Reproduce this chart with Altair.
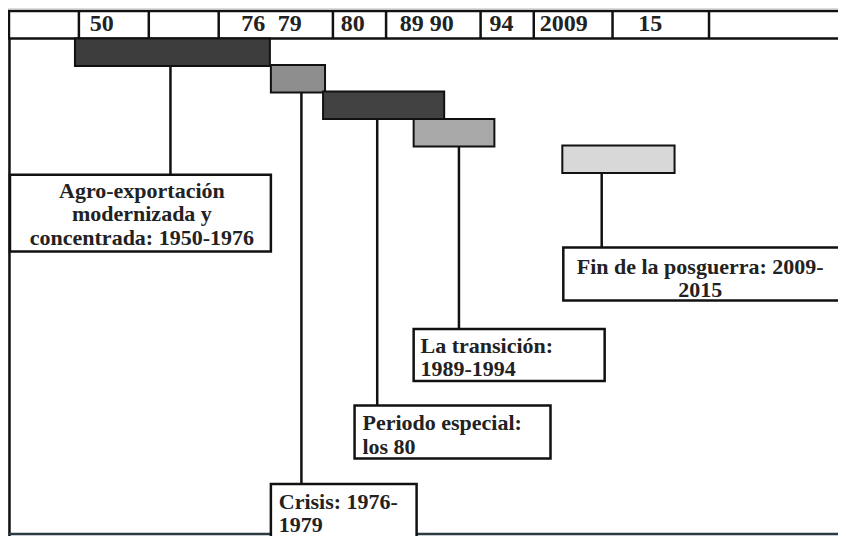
import altair as alt
import pandas as pd

# ---------------- data (diagram layout units = reference pixels) ----------------
header_edges = [75, 146, 217, 333, 387, 483, 537, 617, 715]
header_labels = ["50", "76", "79", "80", "89 90", "94", "2009", "15"]
header_label_x = [86, 240, 277, 341, 401, 492, 543, 643]

periods = ["agro", "crisis", "especial", "transicion", "posguerra"]
bar_x0 = [71, 270, 323, 415, 566]
bar_x1 = [269, 325, 446, 497, 680]
bar_y0 = [37, 64, 91, 119, 146]
bar_y1 = [65, 92, 119, 147, 174]
bar_fill = ["#3c3c3c", "#8e8e8e", "#424242", "#a9a9a9", "#d8d8d8"]

connector_x = [168, 301, 378, 461, 606]

box_x0 = [5, 270, 355, 415, 567]
box_x1 = [270, 418, 554, 609, 852]
box_y0 = [176, 491, 411, 333, 250]
box_y1 = [254, 552, 465, 386, 304]

box_lines = [
    ["Agro-exportación", "modernizada y", "concentrada: 1950-1976"],
    ["Crisis: 1976-", "1979"],
    ["Periodo especial:", "los 80"],
    ["La transición:", "1989-1994"],
    ["Fin de la posguerra: 2009-", "2015"],
]
text_align = ["center", "left", "left", "left", "center"]
text_x = [139, 278, 363, 422, 706]
text_y0 = [192, 509, 429, 350, 270]
line_gap = [24, 24, 24, 24, 23]

# ---------------- tables ----------------
bars = pd.DataFrame(dict(p=periods, x0=bar_x0, x1=bar_x1, y0=bar_y0, y1=bar_y1, fill=bar_fill))
conns = pd.DataFrame(dict(p=periods, x=connector_x, y0=bar_y1, y1=box_y0))
boxes = pd.DataFrame(dict(p=periods, x0=box_x0, x1=box_x1, y0=box_y0, y1=box_y1))
rows = []
for i, lines in enumerate(box_lines):
    for j, t in enumerate(lines):
        rows.append(dict(t=t, x=text_x[i], y=text_y0[i] + j * line_gap[i], align=text_align[i]))
texts = pd.DataFrame(rows)
hdr = pd.DataFrame(dict(x0=[4], x1=[852], y0=[9], y1=[37]))
seps = pd.DataFrame(dict(x=header_edges, y0=[9] * len(header_edges), y1=[37] * len(header_edges)))
hlab = pd.DataFrame(dict(t=header_labels, x=header_label_x, y=[22] * len(header_labels)))
frame_v = pd.DataFrame(dict(x=[4.5], y0=[9], y1=[546]))
frame_h = pd.DataFrame(dict(y=[542], x0=[3], x1=[852]))

W, H = 830, 528
xs = alt.Scale(domain=[3, 846], range=[0, W])
ys = alt.Scale(domain=[6, 544], range=[0, H])

FONT = "Liberation Serif"


def X(f):
    return alt.X(f, type="quantitative", scale=xs, axis=None)


def Y(f):
    return alt.Y(f, type="quantitative", scale=ys, axis=None)


header_box = alt.Chart(hdr).mark_rect(fill="white", stroke="#111", strokeWidth=2.5).encode(
    x=X("x0"), x2="x1", y=Y("y0"), y2="y1")
header_seps = alt.Chart(seps).mark_rule(color="#111", strokeWidth=2.5).encode(
    x=X("x"), y=Y("y0"), y2="y1")
header_text = alt.Chart(hlab).mark_text(font=FONT, fontWeight="bold", fontSize=24, align="left",
                                        baseline="middle", color="#222").encode(
    x=X("x"), y=Y("y"), text="t")
fv = alt.Chart(frame_v).mark_rule(color="#111", strokeWidth=2.5).encode(x=X("x"), y=Y("y0"), y2="y1")
fh = alt.Chart(frame_h).mark_rule(color="#2c3a44", strokeWidth=2.5).encode(y=Y("y"), x=X("x0"), x2="x1")

connectors = alt.Chart(conns).mark_rule(color="#111", strokeWidth=2.5).encode(
    x=X("x"), y=Y("y0"), y2="y1")
bar_layer = alt.Chart(bars).mark_rect(stroke="#111", strokeWidth=2).encode(
    x=X("x0"), x2="x1", y=Y("y0"), y2="y1",
    fill=alt.Fill("fill:N", scale=None))
box_layer = alt.Chart(boxes).mark_rect(fill="white", stroke="#111", strokeWidth=2.5).encode(
    x=X("x0"), x2="x1", y=Y("y0"), y2="y1")

text_center = alt.Chart(texts[texts["align"] == "center"]).mark_text(
    font=FONT, fontWeight="bold", fontSize=22, align="center", baseline="middle", color="#222").encode(
    x=X("x"), y=Y("y"), text="t")
text_left = alt.Chart(texts[texts["align"] == "left"]).mark_text(
    font=FONT, fontWeight="bold", fontSize=22, align="left", baseline="middle", color="#222").encode(
    x=X("x"), y=Y("y"), text="t")

chart = alt.layer(
    fv, fh, header_box, header_seps, header_text, connectors, bar_layer, box_layer, text_center, text_left
).properties(width=W, height=H, padding=0, autosize=alt.AutoSizeParams(type="none")).configure_view(
    stroke=None).configure(background="white")

chart.save("out.html", embed_options={"renderer": "svg", "actions": False})
